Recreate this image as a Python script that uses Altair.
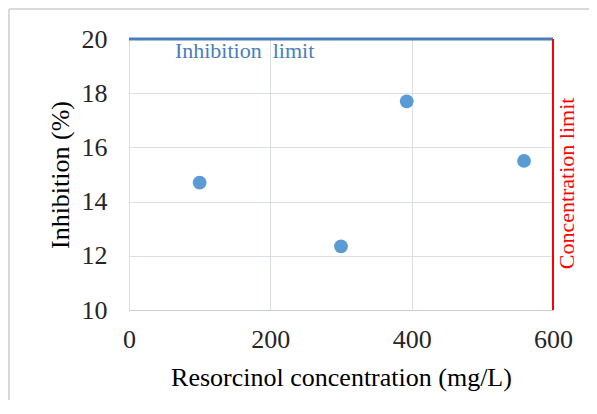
import altair as alt
import pandas as pd

conc = [100, 300, 393, 559]
inhib = [14.7, 12.35, 17.7, 15.5]
x_ticks = [0, 200, 400, 600]
y_ticks = [10, 12, 14, 16, 18, 20]
inhibition_limit = 20
concentration_limit = 600

df = pd.DataFrame({"conc": conc, "inhib": inhib})
FONT = "Liberation Serif"
GRID = "#d9dee8"

xscale = alt.Scale(domain=[0, 600], nice=False)
yscale = alt.Scale(domain=[10, 20], nice=False)

one = pd.DataFrame({"a": [0]})
frame_top = alt.Chart(one).mark_rule(stroke="#d9d9d9", strokeWidth=2, clip=False).encode(
    x=alt.value(-120), x2=alt.value(700), y=alt.value(-30))
frame_left = alt.Chart(one).mark_rule(stroke="#d9d9d9", strokeWidth=2, clip=False).encode(
    x=alt.value(-120), y=alt.value(-30), y2=alt.value(500))

points = alt.Chart(df).mark_circle(size=190, color="#5b9bd5", opacity=1).encode(
    x=alt.X("conc:Q", scale=xscale,
            axis=alt.Axis(title="Resorcinol concentration (mg/L)", values=x_ticks,
                          grid=True, gridColor=GRID, ticks=False, domainColor="#c8ccd4",
                          labelFlush=False,
                          labelFont=FONT, labelFontSize=26, labelColor="#262626",
                          titleFont=FONT, titleFontSize=26, titleFontWeight="normal",
                          titleColor="#000", labelPadding=16, titlePadding=12)),
    y=alt.Y("inhib:Q", scale=yscale,
            axis=alt.Axis(title="Inhibition (%)", values=y_ticks,
                          grid=True, gridColor=GRID, ticks=False, domainColor=GRID,
                          labelFont=FONT, labelFontSize=26, labelColor="#262626",
                          titleFont=FONT, titleFontSize=26, titleFontWeight="normal",
                          titleColor="#000", labelPadding=22, titlePadding=8)),
)

hline = alt.Chart(pd.DataFrame({"y": [inhibition_limit]})).mark_rule(
    color="#4a7ebb", strokeWidth=3
).encode(y=alt.Y("y:Q", scale=yscale))

vline = alt.Chart(pd.DataFrame({"x": [concentration_limit]})).mark_rule(
    color="#ff0000", strokeWidth=2
).encode(x=alt.X("x:Q", scale=xscale))

htext = alt.Chart(pd.DataFrame({"x": [65], "y": [inhibition_limit], "t": ["Inhibition\u00a0\u00a0limit"]})).mark_text(
    font=FONT, fontSize=22, color="#4a7ebb", align="left", baseline="middle", dy=12
).encode(x=alt.X("x:Q", scale=xscale), y=alt.Y("y:Q", scale=yscale), text="t:N")

vtext = alt.Chart(pd.DataFrame({"x": [concentration_limit], "y": [14.67], "t": ["Concentration limit"]})).mark_text(
    font=FONT, fontSize=22, color="#ff0000", angle=270, align="center", baseline="middle", dy=14
).encode(x=alt.X("x:Q", scale=xscale), y=alt.Y("y:Q", scale=yscale), text="t:N")

chart = alt.layer(frame_top, frame_left, points, hline, vline, htext, vtext).properties(
    width=424, height=271,
    autosize=alt.AutoSizeParams(type="none"),
    padding={"left": 121, "top": 31, "right": 36, "bottom": 90},
).configure_view(stroke=None).configure(background="white")

chart.save("out.html", embed_options={"renderer": "svg", "actions": False})
